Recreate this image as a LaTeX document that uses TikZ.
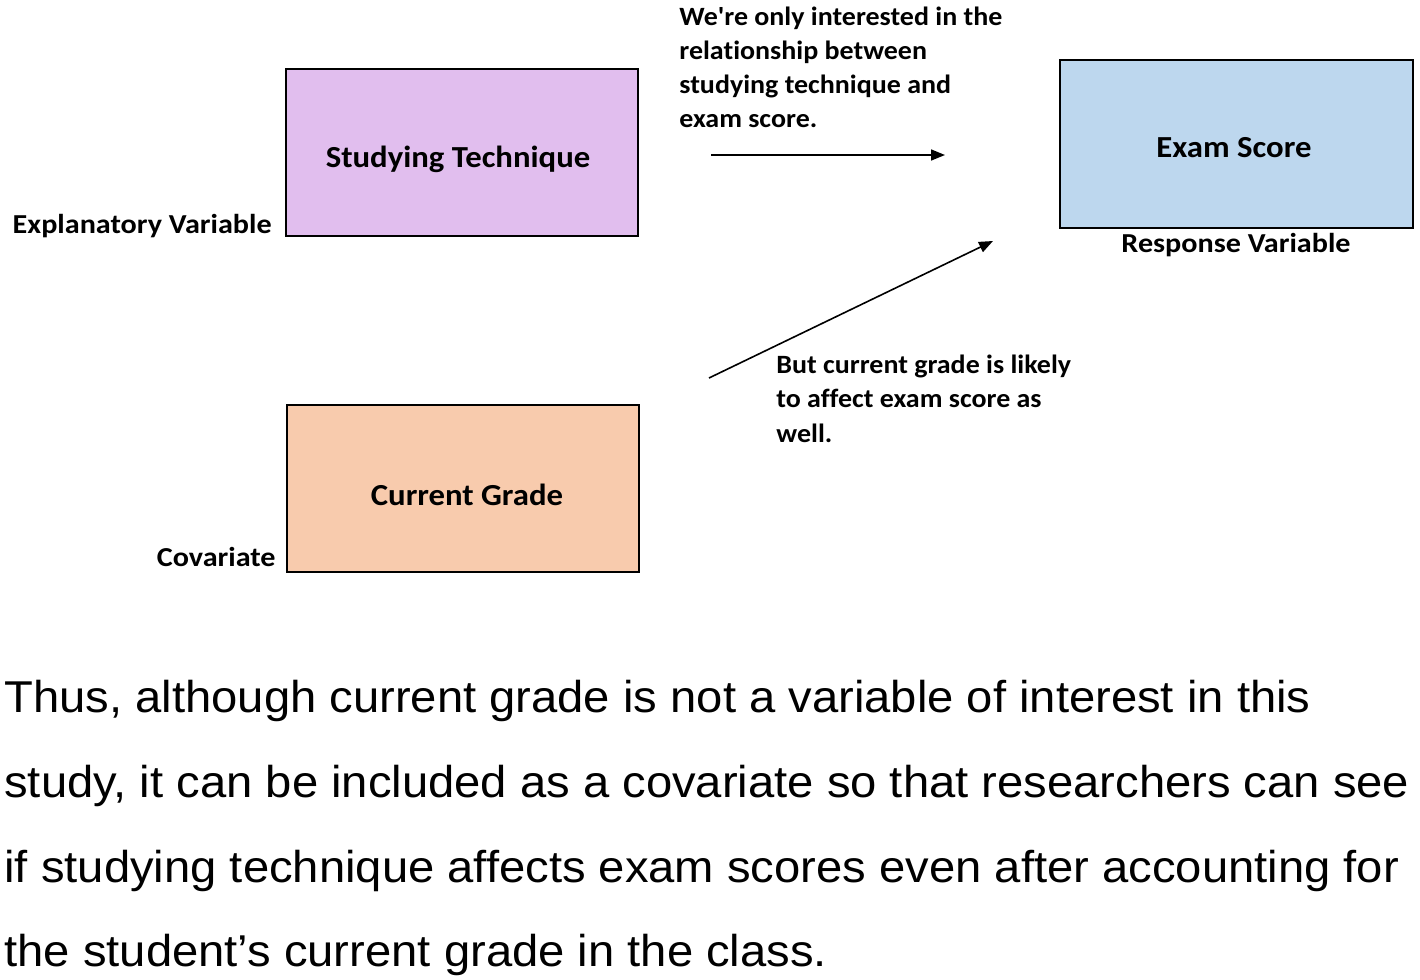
\documentclass[tikz,border=0pt]{standalone}
\usepackage{fontspec}
\setmainfont{Liberation Sans}
\newfontfamily\parafont[FakeStretch=1.058]{Liberation Sans}
\newfontfamily\calbox[FakeStretch=1.07,Ligatures=NoCommon]{Carlito}
\newfontfamily\callbl[FakeStretch=1.10,Ligatures=NoCommon]{Carlito}
\newfontfamily\calnote[FakeStretch=1.06,Ligatures=NoCommon]{Carlito}
\usetikzlibrary{arrows.meta}
\definecolor{lav}{HTML}{E1BEEE}
\definecolor{skyb}{HTML}{BDD7EE}
\definecolor{peach}{HTML}{F8CBAD}
\begin{document}
\begin{tikzpicture}[x=0.5pt,y=-0.5pt]
\tikzset{
  box/.style={draw=black, line width=1.1pt, rectangle, inner sep=0pt, minimum width=176pt, minimum height=83.5pt},
  boxtext/.style={font=\calbox\bfseries\fontsize{15.3}{18}\selectfont, inner sep=0pt, anchor=base},
  lbl/.style={font=\callbl\bfseries\fontsize{13.7}{16}\selectfont, inner sep=0pt},
  note/.style={font=\calnote\bfseries\fontsize{13.2}{16}\selectfont, inner sep=0pt, anchor=base west},
  para/.style={font=\parafont\fontsize{22.3}{26}\selectfont, inner sep=0pt, anchor=base west},
  arr/.style={draw=black, line width=0.8pt, -{Triangle[length=7pt,width=5.5pt]}}
}
\useasboundingbox (0,0) rectangle (1420,980);
\fill[white] (0,0) rectangle (1420,980);

% boxes
\node[box, fill=lav] (st) at (462,152.5) {};
\node[box, fill=skyb, minimum width=176.5pt, minimum height=84pt] (es) at (1236.5,144) {};
\node[box, fill=peach] (cg) at (463,488.5) {};
\node[boxtext] (stt) at (458,167) {Studying Technique};
\node[boxtext] (est) at (1234,157) {Exam Score};
\node[boxtext] (cgt) at (467,505) {Current Grade};

% side labels
\node[lbl, anchor=base east] (expl) at (272,233) {Explanatory Variable};
\node[lbl, anchor=base] (resp) at (1236,252) {Response Variable};
\node[lbl, anchor=base east] (cov) at (276,566) {Covariate};

% annotation top
\node[note] (a1) at (679,25) {We're only interested in the};
\node[note] (a2) at (679,59) {relationship between};
\node[note] (a3) at (679,93) {studying technique and};
\node[note] (a4) at (679,127) {exam score.};

% annotation bottom
\node[note] (b1) at (776,373) {But current grade is likely};
\node[note] (b2) at (776,407) {to affect exam score as};
\node[note] (b3) at (776,442) {well.};

% arrows
\coordinate (h1) at (711,155);
\coordinate (h2) at (945,155);
\coordinate (d1) at (709,378);
\coordinate (d2) at (993,241);
\draw[arr] (h1) -- (h2);
\draw[arr] (d1) -- (d2);

% paragraph
\node[para] (p1) at (4,712) {Thus, although current grade is not a variable of interest in this};
\node[para] (p2) at (4,797) {study, it can be included as a covariate so that researchers can see};
\node[para] (p3) at (4,882) {if studying technique affects exam scores even after accounting for};
\node[para] (p4) at (4,966) {the student’s current grade in the class.};
\end{tikzpicture}
\end{document}
